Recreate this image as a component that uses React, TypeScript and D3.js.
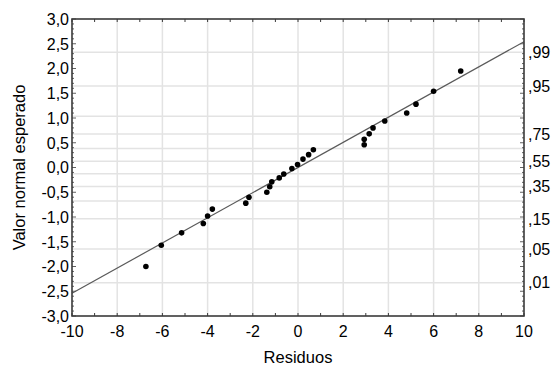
import * as d3 from "d3";

const width = 552;
const height = 367;
const margin = { top: 19, right: 28, bottom: 51, left: 72 };

// residuals and expected normal values
const residuals = [
  -6.73, -6.05, -5.15, -4.19, -4.0, -3.79, -2.31, -2.17, -1.38, -1.25, -1.16, -0.83, -0.63, -0.27,
  -0.02, 0.22, 0.47, 0.68, 2.93, 2.93, 3.15, 3.32, 3.84, 4.81, 5.22, 6.0, 7.2,
];
const expected = [
  -2.0, -1.57, -1.32, -1.13, -0.98, -0.84, -0.72, -0.6, -0.5, -0.39, -0.29, -0.21, -0.13, -0.02,
  0.06, 0.17, 0.26, 0.36, 0.46, 0.57, 0.68, 0.8, 0.94, 1.1, 1.28, 1.54, 1.95,
];
const fitLine = [
  [-10, -2.54],
  [10, 2.54],
];
const xTicks = [-10, -8, -6, -4, -2, 0, 2, 4, 6, 8, 10];
const yTicks = [-3, -2.5, -2, -1.5, -1, -0.5, 0, 0.5, 1, 1.5, 2, 2.5, 3];
const probGrid = [0.01, 0.05, 0.15, 0.25, 0.35, 0.45, 0.55, 0.65, 0.75, 0.85, 0.95, 0.99];
const probLabels = [0.01, 0.05, 0.15, 0.35, 0.55, 0.75, 0.95, 0.99];

// inverse normal cdf (Acklam approximation)
function probit(p: number) {
  const a = [-39.6968302866538, 220.946098424521, -275.928510446969, 138.357751867269, -30.6647980661472, 2.50662827745924];
  const b = [-54.4760987982241, 161.585836858041, -155.698979859887, 66.8013118877197, -13.2806815528857];
  const c = [-0.00778489400243029, -0.322396458041136, -2.40075827716184, -2.54973253934373, 4.37466414146497, 2.93816398269878];
  const d = [0.00778469570904146, 0.32246712907004, 2.445134137143, 3.75440866190742];
  const pl = 0.02425;
  if (p < pl) {
    const q = Math.sqrt(-2 * Math.log(p));
    return (((((c[0] * q + c[1]) * q + c[2]) * q + c[3]) * q + c[4]) * q + c[5]) / ((((d[0] * q + d[1]) * q + d[2]) * q + d[3]) * q + 1);
  }
  if (p > 1 - pl) {
    const q = Math.sqrt(-2 * Math.log(1 - p));
    return -(((((c[0] * q + c[1]) * q + c[2]) * q + c[3]) * q + c[4]) * q + c[5]) / ((((d[0] * q + d[1]) * q + d[2]) * q + d[3]) * q + 1);
  }
  const q = p - 0.5;
  const r = q * q;
  return ((((((a[0] * r + a[1]) * r + a[2]) * r + a[3]) * r + a[4]) * r + a[5]) * q) / (((((b[0] * r + b[1]) * r + b[2]) * r + b[3]) * r + b[4]) * r + 1);
}

const fmt = (v: number) => (Math.abs(v) < 1e-9 ? "0,0" : v.toFixed(1).replace(".", ","));
const fontFamily = "'Liberation Sans', Arial, sans-serif";

export default function App() {
  const innerWidth = width - margin.left - margin.right;
  const innerHeight = height - margin.top - margin.bottom;
  const x = d3.scaleLinear().domain([-10, 10]).range([margin.left, margin.left + innerWidth]);
  const y = d3.scaleLinear().domain([-3, 3]).range([margin.top + innerHeight, margin.top]);
  const line = d3
    .line<number[]>()
    .x((d) => x(d[0]))
    .y((d) => y(d[1]))(fitLine);
  const xMinor = d3.range(-10, 10.01, 1);
  const yMinor = d3.range(-3, 3.001, 0.1);
  const x0 = margin.left;
  const x1 = margin.left + innerWidth;
  const y0 = margin.top;
  const y1 = margin.top + innerHeight;
  const frame = "#3a3a3a";

  return (
    <div style={{ position: "fixed", left: 0, top: 0 }}>
      <svg width={width} height={height} style={{ display: "block", background: "#fff" }} fontFamily={fontFamily}>
        {xTicks.slice(1, -1).map((t) => (
          <line key={`gx${t}`} x1={x(t)} x2={x(t)} y1={y0} y2={y1} stroke="#e3e3e3" strokeWidth={1.5} />
        ))}
        {probGrid.map((p) => (
          <line key={`gp${p}`} x1={x0} x2={x1} y1={y(probit(p))} y2={y(probit(p))} stroke="#e3e3e3" strokeWidth={1.5} />
        ))}
        {xMinor.map((t) => (
          <g key={`xm${t}`}>
            <line x1={x(t)} x2={x(t)} y1={y1} y2={y1 - 3} stroke={frame} />
            <line x1={x(t)} x2={x(t)} y1={y0} y2={y0 + 3} stroke={frame} />
          </g>
        ))}
        {yMinor.map((t, i) => {
          const len = i % 5 === 0 ? 4 : 2;
          return (
            <g key={`ym${i}`}>
              <line x1={x0} x2={x0 + len} y1={y(t)} y2={y(t)} stroke={frame} strokeWidth={0.8} />
              <line x1={x1} x2={x1 - len} y1={y(t)} y2={y(t)} stroke={frame} strokeWidth={0.8} />
            </g>
          );
        })}
        <path d={line ?? ""} fill="none" stroke="#5a5a5a" strokeWidth={1.2} />
        {residuals.map((r, i) => (
          <circle key={`p${i}`} cx={x(r)} cy={y(expected[i])} r={2.8} fill="#000" />
        ))}
        <rect x={x0} y={y0} width={innerWidth} height={innerHeight} fill="none" stroke={frame} strokeWidth={1.6} />
        {yTicks.map((t) => (
          <text key={`yl${t}`} x={x0 - 3} y={y(t)} dy="0.36em" textAnchor="end" fontSize={16} fill="#000">
            {fmt(t)}
          </text>
        ))}
        {xTicks.map((t) => (
          <text key={`xl${t}`} x={x(t)} y={y1 + 21} textAnchor="middle" fontSize={16} fill="#000">
            {t}
          </text>
        ))}
        {probLabels.map((p) => (
          <text key={`pl${p}`} x={x1 + 4} y={y(probit(p))} dy="0.36em" fontSize={16} fill="#000">
            {"," + String(Math.round(p * 100)).padStart(2, "0")}
          </text>
        ))}
        <text x={(x0 + x1) / 2} y={y1 + 47} textAnchor="middle" fontSize={16.5} fill="#000">
          Residuos
        </text>
        <text transform={`translate(25, ${(y0 + y1) / 2}) rotate(-90)`} textAnchor="middle" fontSize={16.5} fill="#000">
          Valor normal esperado
        </text>
      </svg>
    </div>
  );
}
